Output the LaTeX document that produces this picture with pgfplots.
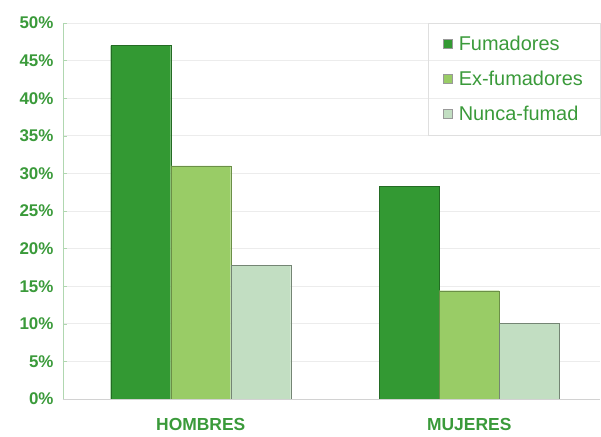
\documentclass[border=0pt]{standalone}
\usepackage{pgfplots}
\pgfplotsset{compat=1.18}
\usetikzlibrary{calc}
\usepackage{fontspec}
\setmainfont{Liberation Sans}
\definecolor{fum}{HTML}{339933}
\definecolor{exf}{HTML}{99CC66}
\definecolor{nun}{HTML}{C2DEC2}
\definecolor{txt}{HTML}{3A9A3A}
\begin{document}
\begin{tikzpicture}
\begin{axis}[
  name=ax,
  scale only axis,
  width=537bp, height=376bp,
  ybar=0pt, bar width=60bp,
  xmin=-0.513, xmax=1.487,
  ymin=0, ymax=50,
  xtick={0,1}, xticklabels={HOMBRES,MUJERES},
  x tick label style={font=\fontsize{17.5}{19}\selectfont\bfseries, text=txt, yshift=-12bp},
  major x tick style={draw=none},
  extra x ticks={0.5}, extra x tick labels={},
  extra x tick style={major tick length=4bp, tick style={draw=gray!40}, grid=none},
  ytick={0,5,...,50},
  yticklabel={\pgfmathprintnumber{\tick}\%},
  y tick label style={font=\fontsize{17}{19}\selectfont\bfseries, text=txt, xshift=-6bp},
  /pgf/number format/assume math mode=true,
  ymajorgrids, grid style={draw=gray!15, line width=0.8pt},
  major y tick style={draw=txt!40},
  major tick length=4bp,
  axis x line*=bottom, axis y line*=left,
  x axis line style={draw=gray!35, -},
  y axis line style={draw=txt!40, -},
  legend style={at={(1,1)}, anchor=north east, draw=gray!25, fill=none,
    font=\fontsize{20}{22}\selectfont, text=txt, row sep=15bp,
    inner xsep=15bp, inner ysep=11bp, cells={anchor=west},
    /tikz/every odd column/.append style={column sep=4bp}},
  legend image code/.code={\draw[#1, draw=black!40] (0bp,-4.5bp) rectangle (9bp,4.5bp);},
]
\addplot[fill=fum, draw=fum!70!black] coordinates {(0,47) (1,28.3)};
\addplot[fill=exf, draw=exf!70!black] coordinates {(0,31) (1,14.4)};
\addplot[fill=nun, draw=nun!60!black] coordinates {(0,17.8) (1,10.1)};
\legend{Fumadores,Ex-fumadores,Nunca-fumad}
\end{axis}
\pgfresetboundingbox
\path[use as bounding box] ($(ax.south west)+(-63bp,-38bp)$) rectangle ($(ax.north east)+(1bp,23bp)$);
\end{tikzpicture}
\end{document}
